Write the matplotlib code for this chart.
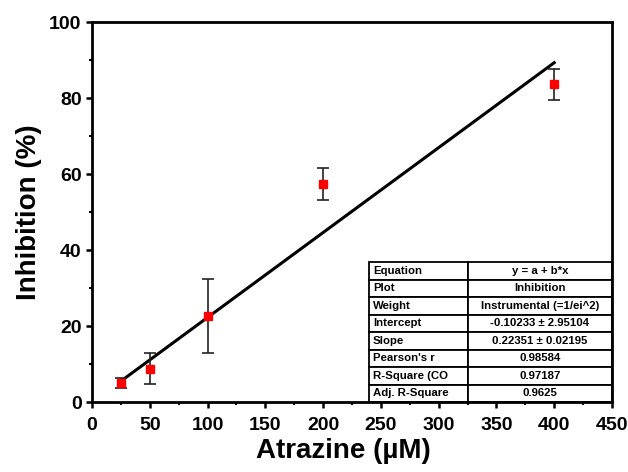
import matplotlib.pyplot as plt
import numpy as np
from matplotlib.ticker import MultipleLocator

plt.rcParams['font.family'] = ['Liberation Sans', 'DejaVu Sans']
plt.rcParams['font.weight'] = 'bold'

# atrazine concentration (uM) vs inhibition (%)
conc = [25, 50, 100, 200, 400]
inhib = [5.0, 8.8, 22.7, 57.4, 83.6]
inhib_err = [1.3, 4.1, 9.7, 4.2, 4.1]

# linear fit parameters
intercept = -0.10233
slope = 0.22351

fit_labels = ['Equation', 'Plot', 'Weight', 'Intercept', 'Slope',
              "Pearson's r", 'R-Square (CO', 'Adj. R-Square']
fit_values = ['y = a + b*x', 'Inhibition', 'Instrumental (=1/ei^2)',
              '-0.10233 \u00b1 2.95104', '0.22351 \u00b1 0.02195',
              '0.98584', '0.97187', '0.9625']

fig = plt.figure(figsize=(6.28, 4.72), dpi=100)
ax = fig.add_axes([0.1465, 0.1483, 0.828, 0.805])

xf = np.array([conc[0], conc[-1]])
ax.plot(xf, intercept + slope * xf, color='black', lw=2.2, zorder=2)
ax.errorbar(conc, inhib, yerr=inhib_err, fmt='s', color='red', ms=6,
            ecolor='#222222', elinewidth=1.2, capsize=4, capthick=1.2, zorder=3)

ax.set_xlim(0, 450)
ax.set_ylim(0, 100)
ax.xaxis.set_major_locator(MultipleLocator(50))
ax.xaxis.set_minor_locator(MultipleLocator(25))
ax.yaxis.set_major_locator(MultipleLocator(20))
ax.yaxis.set_minor_locator(MultipleLocator(10))
ax.tick_params(which='major', direction='out', length=4.5, width=1.8, labelsize=14)
ax.tick_params(which='minor', direction='out', length=2.5, width=1.5)
ax.tick_params(axis='x', which='major', pad=6)
ax.tick_params(axis='y', which='major', pad=3)
for sp in ax.spines.values():
    sp.set_linewidth(2)
ax.set_xlabel('Atrazine (\u00b5M)', fontsize=20, fontweight='bold', labelpad=3)
ax.set_ylabel('Inhibition (%)', fontsize=20, fontweight='bold', labelpad=5)
ax.xaxis.label.set_x(0.483)

tbl = ax.table(cellText=[[a, b] for a, b in zip(fit_labels, fit_values)],
               colWidths=[0.19, 0.277], cellLoc='center',
               bbox=[0.533, 0.0, 0.467, 0.368])
tbl.auto_set_font_size(False)
tbl.set_fontsize(8.2)
for (r, c), cell in tbl.get_celld().items():
    cell.set_linewidth(1.3)
    cell.set_edgecolor('black')
    cell.get_text().set_fontweight('bold')
    if c == 0:
        cell.get_text().set_ha('left')
        cell._loc = 'left'
        cell.PAD = 0.04

fig.savefig('out.png', dpi=100)
